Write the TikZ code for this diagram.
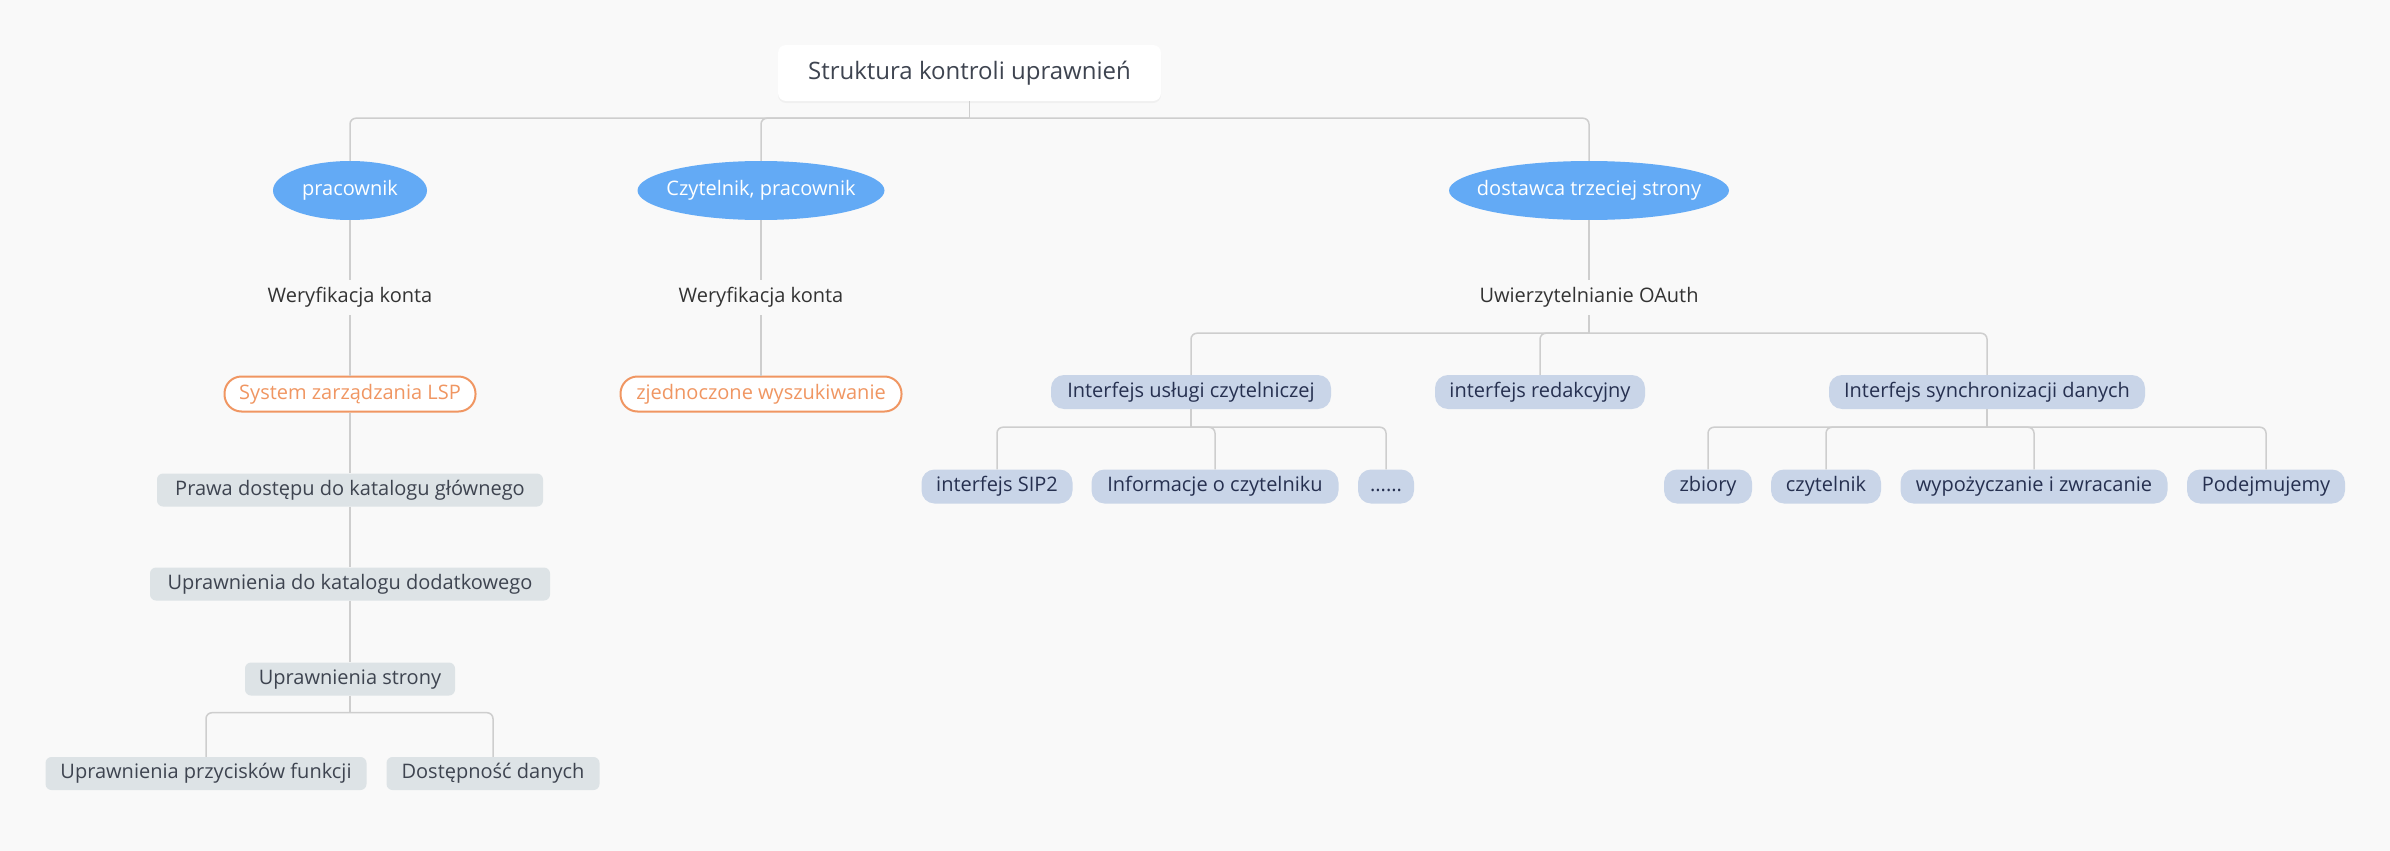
\documentclass[tikz,border=0pt]{standalone}
\usepackage{fontspec}
\setmainfont{Open Sans}
\usetikzlibrary{calc,shadows}
\definecolor{canvasGray}{RGB}{249,249,249}
\definecolor{roleBlue}{RGB}{99,170,245}
\definecolor{lspOrange}{RGB}{240,150,98}
\definecolor{chainGray}{RGB}{221,227,230}
\definecolor{ifaceBlue}{RGB}{201,213,232}
\definecolor{linkGray}{RGB}{206,206,206}
\definecolor{inkDark}{RGB}{62,68,80}
\definecolor{inkNavy}{RGB}{38,48,80}
\definecolor{inkPlain}{RGB}{51,51,51}

\begin{document}
\begin{tikzpicture}[
        x=1pt, y=-1pt,
        every node/.style={inner sep=0pt, text height=14pt, text depth=4pt, font=\fontsize{20}{24}\selectfont},
        topic/.style={rectangle, fill=white, rounded corners=8pt, minimum width=383pt, minimum height=56pt, text=inkDark, font=\fontsize{24}{28}\selectfont, text height=17pt, text depth=5pt, drop shadow={shadow xshift=0pt, shadow yshift=-2pt, opacity=0.07}},
        role/.style={rectangle, minimum width=#1, minimum height=59pt, text=white, path picture={\fill[roleBlue] (path picture bounding box.center) ellipse [x radius=#1/2, y radius=29.5pt];}},
        check/.style={rectangle, minimum height=35pt, text=inkPlain},
        system/.style={rectangle, draw=lspOrange, line width=2pt, fill=white, rounded corners=17pt, minimum width=#1, minimum height=35pt, text=lspOrange},
        perm/.style={rectangle, fill=chainGray, rounded corners=6pt, minimum width=#1, minimum height=33pt, text=inkDark},
        iface/.style={rectangle, fill=ifaceBlue, rounded corners=13pt, minimum width=#1, minimum height=34pt, text=inkNavy},
        link/.style={draw=linkGray, line width=1.5pt, rounded corners=6pt}
    ]
        % Canvas
        \useasboundingbox (0,0) rectangle (2390,851);
        \fill[canvasGray] (0,0) rectangle (2390,851);

        % Root
        \node[topic] (root) at (969.5,73) {Struktura kontroli uprawnień};

        % Roles
        \node[role=154pt] (emp) at (350,190.5) {pracownik};
        \node[role=247pt] (rdr) at (761,190.5) {Czytelnik, pracownik};
        \node[role=280pt] (ven) at (1589,190.5) {dostawca trzeciej strony};

        % Verification
        \node[check] (ver1) at (350,297.5) {Weryfikacja konta};
        \node[check] (ver2) at (761,297.5) {Weryfikacja konta};
        \node[check] (oauth) at (1589,297.5) {Uwierzytelnianie OAuth};

        % Systems
        \node[system=251pt] (lsp) at (350,394) {System zarządzania LSP};
        \node[system=281pt] (fed) at (761,394) {zjednoczone wyszukiwanie};

        % Permission chain
        \node[perm=386pt] (cat1) at (350,490) {Prawa dostępu do katalogu głównego};
        \node[perm=400pt] (cat2) at (350,584) {Uprawnienia do katalogu dodatkowego};
        \node[perm=210pt] (page) at (350,679) {Uprawnienia strony};
        \node[perm=321pt] (btn) at (206,773.5) {Uprawnienia przycisków funkcji};
        \node[perm=213pt] (data) at (493,773.5) {Dostępność danych};

        % Interfaces
        \node[iface=280pt] (svc) at (1191,392) {Interfejs usługi czytelniczej};
        \node[iface=210pt] (edit) at (1540,392) {interfejs redakcyjny};
        \node[iface=316pt] (sync) at (1987,392) {Interfejs synchronizacji danych};

        \node[iface=151pt] (sip) at (997,486.5) {interfejs SIP2};
        \node[iface=247pt] (info) at (1215,486.5) {Informacje o czytelniku};
        \node[iface=56pt] (more) at (1386,486.5) {......};

        \node[iface=88pt] (coll) at (1708,486.5) {zbiory};
        \node[iface=110pt] (rdr2) at (1826,486.5) {czytelnik};
        \node[iface=267pt] (loan) at (2034,486.5) {wypożyczanie i zwracanie};
        \node[iface=158pt] (acc) at (2266,486.5) {Podejmujemy};

        % Connectors
        \coordinate (hub) at ($(root.south)+(0,17)$);
        \draw[link] (root.south) -- (hub);
        \draw[link] (hub) -| (emp.north);
        \draw[link] (hub) -| (rdr.north);
        \draw[link] (hub) -| (ven.north);

        \draw[link] (emp.south) -- (ver1.north);
        \draw[link] (ver1.south) -- (lsp.north);
        \draw[link] (lsp.south) -- (cat1.north);
        \draw[link] (cat1.south) -- (cat2.north);
        \draw[link] (cat2.south) -- (page.north);
        \coordinate (pagehub) at ($(page.south)+(0,17)$);
        \draw[link] (page.south) -- (pagehub);
        \draw[link] (pagehub) -| (btn.north);
        \draw[link] (pagehub) -| (data.north);

        \draw[link] (rdr.south) -- (ver2.north);
        \draw[link] (ver2.south) -- (fed.north);

        \draw[link] (ven.south) -- (oauth.north);
        \coordinate (oauthhub) at ($(oauth.south)+(0,18)$);
        \draw[link] (oauth.south) -- (oauthhub);
        \draw[link] (oauthhub) -| (svc.north);
        \draw[link] (oauthhub) -| (edit.north);
        \draw[link] (oauthhub) -| (sync.north);

        \coordinate (svchub) at ($(svc.south)+(0,18)$);
        \draw[link] (svc.south) -- (svchub);
        \draw[link] (svchub) -| (sip.north);
        \draw[link] (svchub) -| (info.north);
        \draw[link] (svchub) -| (more.north);

        \coordinate (synchub) at ($(sync.south)+(0,18)$);
        \draw[link] (sync.south) -- (synchub);
        \draw[link] (synchub) -| (coll.north);
        \draw[link] (synchub) -| (rdr2.north);
        \draw[link] (synchub) -| (loan.north);
        \draw[link] (synchub) -| (acc.north);

    \end{tikzpicture}
\end{document}
